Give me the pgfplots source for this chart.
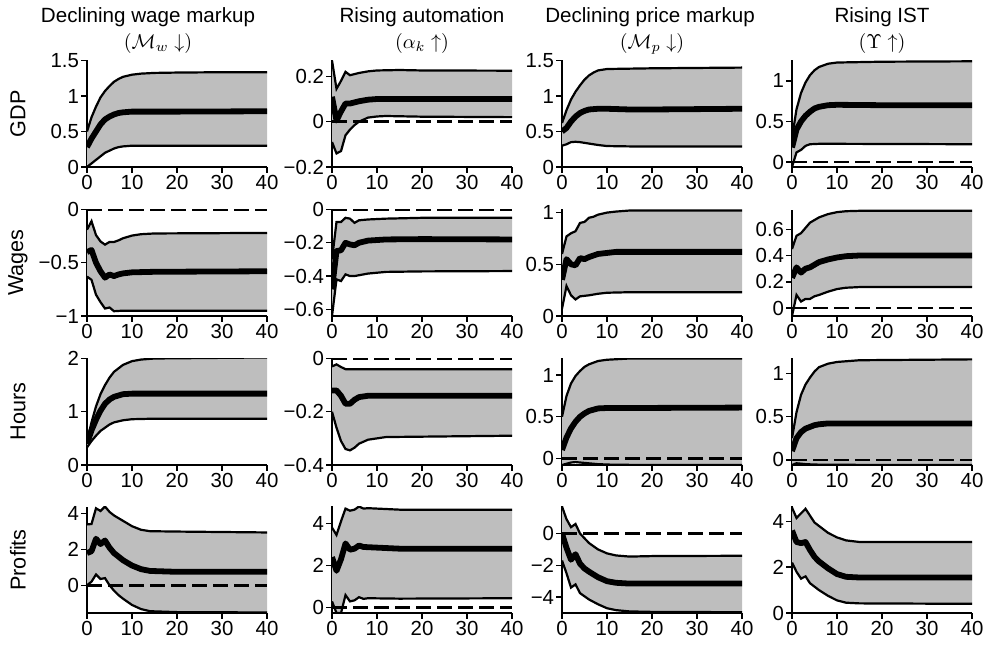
\documentclass[border=0pt]{standalone}
\usepackage{fontspec}
\setmainfont{Liberation Sans}
\usepackage{pgfplots}
\pgfplotsset{compat=1.18}
\definecolor{bandgray}{RGB}{190,190,190}
\newcommand\fs{\fontsize{10.3}{12}\selectfont}
\newcommand\ts{\fontsize{10.2}{12}\selectfont}
\pgfplotsset{irf/.style={
  scale only axis, width=90pt, height=53.25pt, anchor=south west,
  xmin=0, xmax=40, xtick={0,10,20,30,40},
  axis x line=bottom, axis y line=left,
  axis line style={-, line width=0.7pt, black},
  tick style={black, line width=0.7pt},
  major tick length=2.8pt, tick align=outside,
  tick label style={font=\ts, inner sep=1pt},
  /pgf/number format/assume math mode=true,
  clip=true,
}}
% #1 upper, #2 median, #3 lower, #4 lower in reverse order (closes the band)
\newcommand\band[4]{%
 \addplot[fill=bandgray, draw=none] coordinates {#1 #4} -- cycle;
 \addplot[line width=1.1pt, black] coordinates {#1};
 \addplot[line width=1.1pt, black] coordinates {#3};
 \addplot[line width=2.9pt, black, line join=round] coordinates {#2};
 \addplot[black, line width=1.3pt, dash pattern=on 7.5pt off 3pt] coordinates {(0,0)(40,0)};
}
\begin{document}
\begin{tikzpicture}
\path (0,0) rectangle (494pt,323.5pt);
% ---------------- Row 1: GDP ----------------
\begin{axis}[irf, at={(43.5pt,240pt)}, ymin=0, ymax=1.5, ytick={0,0.5,1,1.5}, yticklabels={0,0.5,1,1.5}]
\band{(0,0.5)(1,0.7)(2,0.85)(3,0.98)(4,1.07)(5,1.14)(6,1.2)(7,1.24)(8,1.27)(10,1.3)(12,1.315)(15,1.325)(20,1.33)(30,1.335)(40,1.335)}
{(0,0.28)(1,0.4)(2,0.5)(3,0.6)(4,0.67)(5,0.71)(6,0.74)(7,0.76)(8,0.77)(10,0.78)(15,0.78)(20,0.78)(40,0.785)}
{(0,0.0)(1,0.05)(2,0.1)(3,0.15)(4,0.2)(5,0.23)(6,0.26)(7,0.28)(8,0.29)(10,0.3)(40,0.3)}
{(40,0.3)(10,0.3)(8,0.29)(7,0.28)(6,0.26)(5,0.23)(4,0.2)(3,0.15)(2,0.1)(1,0.05)(0,0.0)}
\end{axis}
\begin{axis}[irf, at={(166pt,240pt)}, ymin=-0.2, ymax=0.27, ytick={-0.2,0,0.2}, yticklabels={−0.2,0,0.2}]
\band{(0,0.27)(1,0.145)(2,0.18)(3,0.22)(4,0.205)(5,0.21)(6,0.215)(8,0.222)(10,0.226)(15,0.228)(20,0.226)(40,0.225)}
{(0,0.11)(1,0.005)(2,0.045)(3,0.08)(4,0.08)(5,0.085)(6,0.09)(8,0.097)(10,0.1)(15,0.1)(40,0.1)}
{(0,-0.09)(1,-0.14)(2,-0.13)(3,-0.06)(4,-0.035)(5,-0.015)(6,0.0)(8,0.018)(10,0.023)(12,0.025)(20,0.022)(40,0.02)}
{(40,0.02)(20,0.022)(12,0.025)(10,0.023)(8,0.018)(6,0.0)(5,-0.015)(4,-0.035)(3,-0.06)(2,-0.13)(1,-0.14)(0,-0.09)}
\end{axis}
\begin{axis}[irf, at={(281pt,240pt)}, ymin=0, ymax=1.5, ytick={0,0.5,1,1.5}, yticklabels={0,0.5,1,1.5}]
\band{(0,0.62)(1,0.8)(2,0.95)(3,1.06)(4,1.15)(5,1.23)(6,1.29)(7,1.33)(8,1.36)(10,1.38)(15,1.385)(20,1.39)(40,1.4)}
{(0,0.5)(1,0.55)(2,0.64)(3,0.71)(4,0.76)(5,0.79)(6,0.81)(8,0.82)(10,0.82)(15,0.81)(20,0.81)(40,0.82)}
{(0,0.3)(1,0.32)(2,0.35)(3,0.355)(4,0.35)(6,0.33)(8,0.31)(10,0.295)(15,0.29)(40,0.29)}
{(40,0.29)(15,0.29)(10,0.295)(8,0.31)(6,0.33)(4,0.35)(3,0.355)(2,0.35)(1,0.32)(0,0.3)}
\end{axis}
\begin{axis}[irf, at={(396pt,240pt)}, ymin=-0.06, ymax=1.25, ytick={0,0.5,1}, yticklabels={0,0.5,1}]
\band{(0,0.3)(1,0.65)(2,0.85)(3,0.98)(4,1.07)(5,1.13)(6,1.17)(8,1.21)(10,1.225)(15,1.23)(20,1.235)(40,1.24)}
{(0,0.18)(1,0.4)(2,0.5)(3,0.57)(4,0.62)(5,0.66)(6,0.68)(8,0.7)(10,0.705)(20,0.7)(40,0.7)}
{(0,-0.06)(1,0.12)(2,0.15)(3,0.2)(4,0.22)(6,0.225)(10,0.225)(40,0.22)}
{(40,0.22)(10,0.225)(6,0.225)(4,0.22)(3,0.2)(2,0.15)(1,0.12)(0,-0.06)}
\end{axis}
% ---------------- Row 2: Wages ----------------
\begin{axis}[irf, at={(43.5pt,165.5pt)}, ymin=-1, ymax=0, ytick={-1,-0.5,0}, yticklabels={−1,−0.5,0}]
\band{(0,-0.19)(1,-0.11)(2,-0.24)(3,-0.3)(4,-0.33)(5,-0.305)(6,-0.305)(7,-0.29)(8,-0.27)(10,-0.245)(12,-0.232)(15,-0.225)(40,-0.22)}
{(0,-0.4)(1,-0.38)(2,-0.5)(3,-0.58)(4,-0.64)(5,-0.61)(6,-0.625)(7,-0.61)(8,-0.6)(10,-0.59)(15,-0.585)(40,-0.58)}
{(0,-0.63)(1,-0.66)(2,-0.8)(3,-0.87)(4,-0.93)(5,-0.92)(6,-0.955)(8,-0.95)(12,-0.95)(40,-0.95)}
{(40,-0.95)(12,-0.95)(8,-0.95)(6,-0.955)(5,-0.92)(4,-0.93)(3,-0.87)(2,-0.8)(1,-0.66)(0,-0.63)}
\end{axis}
\begin{axis}[irf, at={(166pt,165.5pt)}, ymin=-0.64, ymax=0, ytick={-0.6,-0.4,-0.2,0}, yticklabels={−0.6,−0.4,−0.2,0}]
\band{(0,-0.3)(1,-0.075)(2,-0.075)(3,-0.05)(4,-0.055)(5,-0.08)(6,-0.065)(8,-0.06)(12,-0.055)(20,-0.05)(40,-0.05)}
{(0,-0.48)(1,-0.25)(2,-0.245)(3,-0.2)(4,-0.21)(5,-0.215)(6,-0.2)(8,-0.187)(12,-0.18)(20,-0.178)(40,-0.18)}
{(0,-0.64)(1,-0.42)(2,-0.43)(3,-0.39)(4,-0.4)(5,-0.4)(6,-0.395)(8,-0.385)(12,-0.375)(20,-0.372)(40,-0.37)}
{(40,-0.37)(20,-0.372)(12,-0.375)(8,-0.385)(6,-0.395)(5,-0.4)(4,-0.4)(3,-0.39)(2,-0.43)(1,-0.42)(0,-0.64)}
\end{axis}
\begin{axis}[irf, at={(281pt,165.5pt)}, ymin=0, ymax=1.03, ytick={0,0.5,1}, yticklabels={0,0.5,1}]
\band{(0,0.6)(1,0.77)(2,0.8)(3,0.82)(4,0.9)(5,0.91)(6,0.95)(7,0.96)(8,0.98)(10,1.0)(12,1.01)(15,1.02)(40,1.02)}
{(0,0.35)(1,0.55)(2,0.5)(3,0.49)(4,0.56)(5,0.55)(6,0.57)(8,0.6)(10,0.61)(12,0.62)(40,0.62)}
{(0,0.07)(1,0.29)(2,0.2)(3,0.16)(4,0.19)(6,0.2)(8,0.215)(10,0.225)(15,0.23)(40,0.23)}
{(40,0.23)(15,0.23)(10,0.225)(8,0.215)(6,0.2)(4,0.19)(3,0.16)(2,0.2)(1,0.29)(0,0.07)}
\end{axis}
\begin{axis}[irf, at={(396pt,165.5pt)}, ymin=-0.06, ymax=0.75, ytick={0,0.2,0.4,0.6}, yticklabels={0,0.2,0.4,0.6}]
\band{(0,0.45)(1,0.55)(2,0.57)(3,0.61)(4,0.65)(5,0.67)(6,0.69)(8,0.715)(10,0.73)(12,0.737)(15,0.74)(40,0.74)}
{(0,0.23)(1,0.31)(2,0.27)(3,0.3)(4,0.31)(5,0.33)(6,0.35)(8,0.37)(10,0.385)(12,0.395)(15,0.4)(40,0.4)}
{(0,-0.06)(1,0.1)(2,0.05)(3,0.07)(4,0.07)(5,0.09)(6,0.1)(8,0.125)(10,0.145)(12,0.155)(15,0.16)(40,0.16)}
{(40,0.16)(15,0.16)(12,0.155)(10,0.145)(8,0.125)(6,0.1)(5,0.09)(4,0.07)(3,0.07)(2,0.05)(1,0.1)(0,-0.06)}
\end{axis}
% ---------------- Row 3: Hours ----------------
\begin{axis}[irf, at={(43.5pt,91pt)}, ymin=0, ymax=2, ytick={0,1,2}, yticklabels={0,1,2}]
\band{(0,0.45)(1,0.8)(2,1.1)(3,1.33)(4,1.5)(5,1.64)(6,1.75)(8,1.88)(10,1.95)(12,1.98)(15,2.0)(40,2.02)}
{(0,0.4)(1,0.65)(2,0.85)(3,1.02)(4,1.15)(5,1.23)(6,1.28)(8,1.33)(10,1.34)(40,1.34)}
{(0,0.33)(1,0.45)(2,0.55)(3,0.64)(4,0.7)(5,0.76)(6,0.8)(8,0.84)(10,0.86)(15,0.87)(40,0.87)}
{(40,0.87)(15,0.87)(10,0.86)(8,0.84)(6,0.8)(5,0.76)(4,0.7)(3,0.64)(2,0.55)(1,0.45)(0,0.33)}
\end{axis}
\begin{axis}[irf, at={(166pt,91pt)}, ymin=-0.4, ymax=0, ytick={-0.4,-0.2,0}, yticklabels={−0.4,−0.2,0}]
\band{(0,-0.03)(1,-0.022)(2,-0.032)(3,-0.04)(4,-0.04)(6,-0.04)(10,-0.04)(40,-0.04)}
{(0,-0.12)(1,-0.12)(2,-0.14)(3,-0.17)(4,-0.17)(5,-0.155)(6,-0.145)(8,-0.14)(12,-0.14)(40,-0.14)}
{(0,-0.2)(1,-0.26)(2,-0.31)(3,-0.34)(4,-0.345)(5,-0.335)(6,-0.32)(8,-0.305)(12,-0.295)(40,-0.29)}
{(40,-0.29)(12,-0.295)(8,-0.305)(6,-0.32)(5,-0.335)(4,-0.345)(3,-0.34)(2,-0.31)(1,-0.26)(0,-0.2)}
\end{axis}
\begin{axis}[irf, at={(281pt,91pt)}, ymin=-0.08, ymax=1.2, ytick={0,0.5,1}, yticklabels={0,0.5,1}]
\band{(0,0.5)(1,0.75)(2,0.9)(3,0.99)(4,1.05)(5,1.1)(6,1.13)(8,1.17)(10,1.185)(15,1.2)(40,1.2)}
{(0,0.1)(1,0.25)(2,0.36)(3,0.44)(4,0.5)(5,0.54)(6,0.57)(8,0.6)(10,0.605)(15,0.605)(40,0.61)}
{(0,-0.08)(1,-0.065)(2,-0.05)(3,-0.045)(4,-0.05)(6,-0.06)(8,-0.07)(12,-0.078)(40,-0.08)}
{(40,-0.08)(12,-0.078)(8,-0.07)(6,-0.06)(4,-0.05)(3,-0.045)(2,-0.05)(1,-0.065)(0,-0.08)}
\end{axis}
\begin{axis}[irf, at={(396pt,91pt)}, ymin=-0.06, ymax=1.17, ytick={0,0.5,1}, yticklabels={0,0.5,1}]
\band{(0,0.25)(1,0.55)(2,0.75)(3,0.87)(4,0.95)(5,1.02)(6,1.07)(8,1.11)(10,1.13)(15,1.15)(40,1.16)}
{(0,0.1)(1,0.25)(2,0.32)(3,0.36)(4,0.38)(5,0.4)(6,0.41)(8,0.42)(40,0.42)}
{(0,-0.06)(1,-0.04)(2,-0.045)(3,-0.05)(5,-0.055)(10,-0.058)(40,-0.06)}
{(40,-0.06)(10,-0.058)(5,-0.055)(3,-0.05)(2,-0.045)(1,-0.04)(0,-0.06)}
\end{axis}
% ---------------- Row 4: Profits ----------------
\begin{axis}[irf, at={(43.5pt,17pt)}, ymin=-1.55, ymax=4.4, ytick={0,2,4}, yticklabels={0,2,4}]
\band{(0,3.4)(1,3.42)(2,4.3)(3,4.15)(4,4.4)(5,4.1)(6,3.9)(7,3.75)(8,3.6)(10,3.3)(12,3.1)(14,3.02)(20,3.0)(40,2.95)}
{(0,1.8)(1,1.9)(2,2.6)(3,2.3)(4,2.5)(5,2.1)(6,1.8)(7,1.6)(8,1.4)(10,1.1)(12,0.9)(14,0.8)(20,0.75)(40,0.75)}
{(0,0.0)(1,0.2)(2,0.6)(3,0.35)(4,0.4)(5,0.0)(6,-0.3)(7,-0.55)(8,-0.75)(10,-1.1)(12,-1.33)(14,-1.45)(20,-1.5)(40,-1.52)}
{(40,-1.52)(20,-1.5)(14,-1.45)(12,-1.33)(10,-1.1)(8,-0.75)(7,-0.55)(6,-0.3)(5,0.0)(4,0.4)(3,0.35)(2,0.6)(1,0.2)(0,0.0)}
\end{axis}
\begin{axis}[irf, at={(166pt,17pt)}, ymin=-0.25, ymax=4.8, ytick={0,2,4}, yticklabels={0,2,4}]
\band{(0,3.8)(1,3.45)(2,4.1)(3,4.7)(4,4.6)(5,4.65)(6,4.8)(7,4.7)(8,4.72)(10,4.7)(15,4.65)(40,4.65)}
{(0,2.4)(1,1.75)(2,2.3)(3,3.05)(4,2.75)(5,2.8)(6,2.95)(7,2.88)(8,2.87)(15,2.8)(40,2.8)}
{(0,0.3)(1,-0.25)(2,-0.25)(3,0.6)(4,0.3)(5,0.35)(6,0.5)(7,0.42)(8,0.45)(15,0.43)(40,0.45)}
{(40,0.45)(15,0.43)(8,0.45)(7,0.42)(6,0.5)(5,0.35)(4,0.3)(3,0.6)(2,-0.25)(1,-0.25)(0,0.3)}
\end{axis}
\begin{axis}[irf, at={(281pt,17pt)}, ymin=-5, ymax=1.7, ytick={-4,-2,0}, yticklabels={−4,−2,0}]
\band{(0,1.7)(1,0.9)(2,0.4)(3,0.6)(4,0.0)(5,-0.3)(6,-0.6)(8,-1.0)(10,-1.25)(12,-1.38)(15,-1.45)(20,-1.42)(40,-1.4)}
{(0,0.0)(1,-0.9)(2,-1.65)(3,-1.3)(4,-1.9)(5,-2.2)(6,-2.4)(8,-2.75)(10,-3.0)(12,-3.1)(15,-3.15)(40,-3.15)}
{(0,-1.7)(1,-2.5)(2,-3.4)(3,-3.2)(4,-3.75)(5,-3.95)(6,-4.15)(8,-4.45)(10,-4.7)(12,-4.82)(15,-4.9)(20,-4.93)(40,-4.95)}
{(40,-4.95)(20,-4.93)(15,-4.9)(12,-4.82)(10,-4.7)(8,-4.45)(6,-4.15)(5,-3.95)(4,-3.75)(3,-3.2)(2,-3.4)(1,-2.5)(0,-1.7)}
\end{axis}
\begin{axis}[irf, at={(396pt,17pt)}, ymin=0, ymax=4.65, ytick={0,2,4}, yticklabels={0,2,4}]
\band{(0,4.6)(1,4.15)(2,4.35)(3,4.55)(4,4.25)(5,3.95)(6,3.8)(8,3.5)(10,3.3)(12,3.17)(15,3.1)(40,3.1)}
{(0,3.6)(1,3.1)(2,3.05)(3,3.1)(4,2.75)(5,2.45)(6,2.25)(8,1.95)(10,1.7)(12,1.58)(15,1.55)(40,1.55)}
{(0,2.2)(1,1.8)(2,1.5)(3,1.6)(4,1.3)(5,1.15)(6,1.0)(8,0.75)(10,0.55)(12,0.45)(15,0.42)(40,0.4)}
{(40,0.4)(15,0.42)(12,0.45)(10,0.55)(8,0.75)(6,1.0)(5,1.15)(4,1.3)(3,1.6)(2,1.5)(1,1.8)(0,2.2)}
\end{axis}
% ---------------- Titles and row labels ----------------
\begin{scope}[every node/.style={font=\fs, inner sep=0pt}]
\node[anchor=base] at (74pt,312pt) {Declining wage markup};
\node at (79pt,301.5pt) {$(\mathcal{M}_w\downarrow)$};
\node[anchor=base] at (211pt,312pt) {Rising automation};
\node at (211pt,301.5pt) {$(\alpha_k\uparrow)$};
\node[anchor=base] at (325pt,312pt) {Declining price markup};
\node at (326pt,301.5pt) {$(\mathcal{M}_p\downarrow)$};
\node[anchor=base] at (441pt,312pt) {Rising IST};
\node at (441pt,301.5pt) {$(\Upsilon\uparrow)$};
\node[rotate=90, font=\fontsize{10.8}{12}\selectfont] at (9pt,266.6pt) {GDP};
\node[rotate=90, font=\fontsize{10.8}{12}\selectfont] at (9pt,192.25pt) {Wages};
\node[rotate=90, font=\fontsize{10.8}{12}\selectfont] at (9pt,117.75pt) {Hours};
\node[rotate=90, font=\fontsize{10.8}{12}\selectfont] at (9pt,43.5pt) {Profits};
\end{scope}
\end{tikzpicture}
\end{document}
